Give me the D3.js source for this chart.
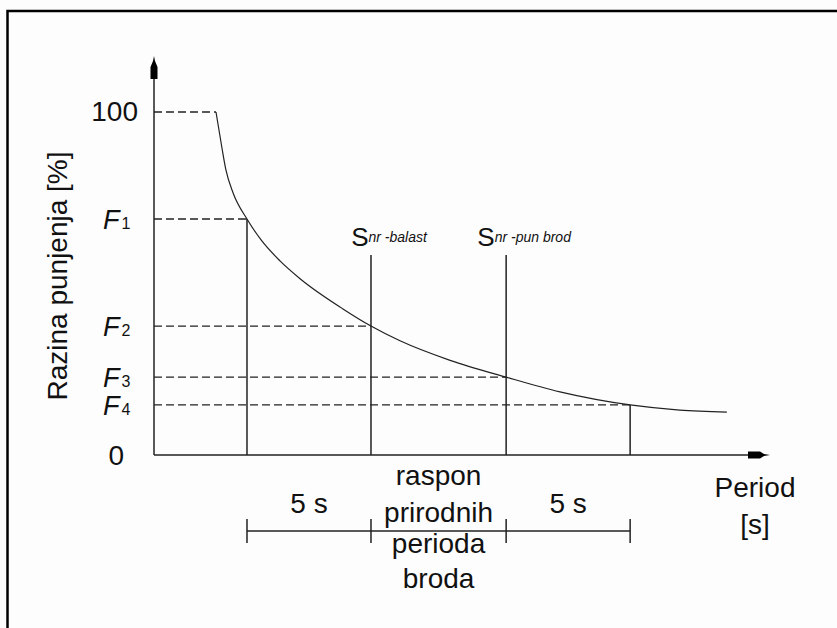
<!DOCTYPE html>
<html>
<head>
<meta charset="utf-8">
<script src="https://cdn.jsdelivr.net/npm/d3@7"></script>
<style>
  body { margin: 0; background: #fdfdfd; }
  svg { display: block; }
  text { font-family: "Liberation Sans", Arial, sans-serif; fill: #111; }
</style>
</head>
<body>
<script>
// curve: fill level [%] vs natural period [s]
var curvePeriod = [2.5, 2.74, 2.9, 3.19, 3.75, 4.35, 5.08, 5.89, 7.62, 8.75, 9.92, 11.94, 14.2, 16.37, 19.2, 21.2, 23.1];
var curveFill   = [100, 89.5, 83.1, 76.4, 68.8, 62.4, 56.6, 51.4, 42.6, 37.6, 33.3, 27.6, 22.7, 18.4, 14.6, 13.1, 12.5];

// levels on the y axis and where their dashed line meets the curve
var levelNames  = ["100", "F1", "F2", "F3", "F4"];
var levelValues = [100, 68.8, 37.6, 22.7, 14.6];
var levelPeriod = [2.5, 3.75, 8.75, 14.2, 19.2];

// the two natural periods (ballast / full ship) and the +-5 s limits
var shipNames   = ["nr -balast", "nr -pun brod"];
var shipPeriod  = [8.75, 14.2];
var bracketPeriod = [3.75, 8.75, 14.2, 19.2];
var spanLabels  = ["5 s", "", "5 s"];
var middleText  = ["raspon", "prirodnih", "perioda", "broda"];

var width = 837, height = 628;

var svg = d3.select("body").append("svg")
    .attr("width", width)
    .attr("height", height);

// frame (right and bottom edges fall outside the picture)
svg.append("path")
    .attr("d", "M7.5,640 V11 H850")
    .attr("fill", "none")
    .attr("stroke", "#000")
    .attr("stroke-width", 2.5);

var x = d3.scaleLinear().domain([0, 24.8]).range([154, 769]);
var y = d3.scaleLinear().domain([0, 100]).range([455, 112]);

var ink = "#222";

// axes
var axisX = d3.axisBottom(x).tickValues([]).tickSizeOuter(0);
var axisY = d3.axisLeft(y.copy().domain([0, 116.5]).range([455, 56])).tickValues([]).tickSizeOuter(0);

svg.append("g").attr("transform", "translate(0," + y(0) + ")").call(axisX)
   .select(".domain").attr("stroke", ink).attr("stroke-width", 1.5)
   .attr("d", "M" + x(0) + ",0H" + (x(24.8) - 14));
svg.append("g").attr("transform", "translate(" + x(0) + ",0)").call(axisY)
   .select(".domain").attr("stroke", ink).attr("stroke-width", 1.5)
   .attr("d", "M0," + y(0) + "V70");

// arrow heads
var ax = x(0), ayTop = 56;
svg.append("path")
   .attr("d", "M" + ax + "," + ayTop + "L" + (ax + 1) + "," + (ayTop + 5) +
              "L" + (ax + 3.5) + "," + (ayTop + 11) + "V" + (ayTop + 23) +
              "H" + (ax - 3.5) + "V" + (ayTop + 11) + "L" + (ax - 1) + "," + (ayTop + 5) + "Z")
   .attr("fill", "#000");
var bx = x(24.8) + 1, by = y(0);
svg.append("path")
   .attr("d", "M" + bx + "," + by + "L" + (bx - 6) + "," + (by + 1) +
              "L" + (bx - 10) + "," + (by + 3.5) + "H" + (bx - 22) +
              "V" + (by - 3.5) + "H" + (bx - 10) + "L" + (bx - 6) + "," + (by - 1) + "Z")
   .attr("fill", "#000");

// dashed helper lines from the y axis to the curve
svg.append("g").selectAll("line")
   .data(levelValues)
   .enter().append("line")
   .attr("x1", x(0))
   .attr("x2", function(d, i) { return x(levelPeriod[i]); })
   .attr("y1", function(d) { return y(d); })
   .attr("y2", function(d) { return y(d); })
   .attr("stroke", ink)
   .attr("stroke-width", 1.3)
   .attr("stroke-dasharray", "8,4");

// vertical lines
var verticals = [
  {p: 3.75, top: levelValues[1]},
  {p: shipPeriod[0], top: 58.3},
  {p: shipPeriod[1], top: 58.3},
  {p: 19.2, top: levelValues[4]}
];
svg.append("g").selectAll("line")
   .data(verticals)
   .enter().append("line")
   .attr("x1", function(d) { return x(d.p); })
   .attr("x2", function(d) { return x(d.p); })
   .attr("y1", function(d) { return y(d.top); })
   .attr("y2", y(0))
   .attr("stroke", ink)
   .attr("stroke-width", 1.5);

// curve
var line = d3.line()
    .x(function(d) { return x(d[0]); })
    .y(function(d) { return y(d[1]); })
    .curve(d3.curveMonotoneX);

svg.append("path")
   .datum(d3.zip(curvePeriod, curveFill))
   .attr("d", line)
   .attr("fill", "none")
   .attr("stroke", ink)
   .attr("stroke-width", 1.2);

// y labels
svg.append("text")
   .attr("x", x(0) - 16).attr("y", y(100) + 9)
   .attr("text-anchor", "end")
   .style("font-size", "28px")
   .text(levelNames[0]);

svg.append("text")
   .attr("x", x(0) - 30).attr("y", y(0) + 10)
   .attr("text-anchor", "end")
   .style("font-size", "28px")
   .text("0");

var fl = svg.append("g").selectAll("text")
   .data(levelNames.slice(1))
   .enter().append("text")
   .attr("x", 103)
   .attr("y", function(d, i) { return y(levelValues[i + 1]) + 10; })
   .style("font-size", "27px");
fl.append("tspan").style("font-style", "italic").text("F");
fl.append("tspan").attr("dx", 2).style("font-size", "16px").text(function(d) { return d.slice(1); });

// S labels over the natural-period lines
var sl = svg.append("g").selectAll("text")
   .data(shipNames)
   .enter().append("text")
   .attr("x", function(d, i) { return x(shipPeriod[i]) + 18; })
   .attr("y", 246)
   .attr("text-anchor", "middle");
sl.append("tspan").style("font-size", "26px").text("S");
sl.append("tspan").attr("dy", -4).style("font-size", "14px").style("font-style", "italic")
  .text(function(d) { return d; });

// axis titles
svg.append("text")
   .attr("transform", "translate(67,276) rotate(-90)")
   .attr("text-anchor", "middle")
   .style("font-size", "28px")
   .text("Razina punjenja [%]");

svg.append("text").attr("x", 755).attr("y", 497).attr("text-anchor", "middle")
   .style("font-size", "28px").text("Period");
svg.append("text").attr("x", 755).attr("y", 534).attr("text-anchor", "middle")
   .style("font-size", "28px").text("[s]");

// dimension line below the axis
var dimY = y(0) + 76;
svg.append("line")
   .attr("x1", x(bracketPeriod[0])).attr("x2", x(bracketPeriod[3]))
   .attr("y1", dimY).attr("y2", dimY)
   .attr("stroke", ink).attr("stroke-width", 1.5);
svg.append("g").selectAll("line")
   .data(bracketPeriod)
   .enter().append("line")
   .attr("x1", function(d) { return x(d); })
   .attr("x2", function(d) { return x(d); })
   .attr("y1", dimY - 12).attr("y2", dimY + 12)
   .attr("stroke", ink).attr("stroke-width", 1.5);

svg.append("g").selectAll("text")
   .data(spanLabels)
   .enter().append("text")
   .attr("x", function(d, i) { return (x(bracketPeriod[i]) + x(bracketPeriod[i + 1])) / 2; })
   .attr("y", dimY - 18)
   .attr("text-anchor", "middle")
   .style("font-size", "28px")
   .text(function(d) { return d; });

var midBase = [485, 522, 553, 588];
svg.append("g").selectAll("text")
   .data(middleText)
   .enter().append("text")
   .attr("x", (x(shipPeriod[0]) + x(shipPeriod[1])) / 2)
   .attr("y", function(d, i) { return midBase[i]; })
   .attr("text-anchor", "middle")
   .style("font-size", "28px")
   .text(function(d) { return d; });
</script>
</body>
</html>
